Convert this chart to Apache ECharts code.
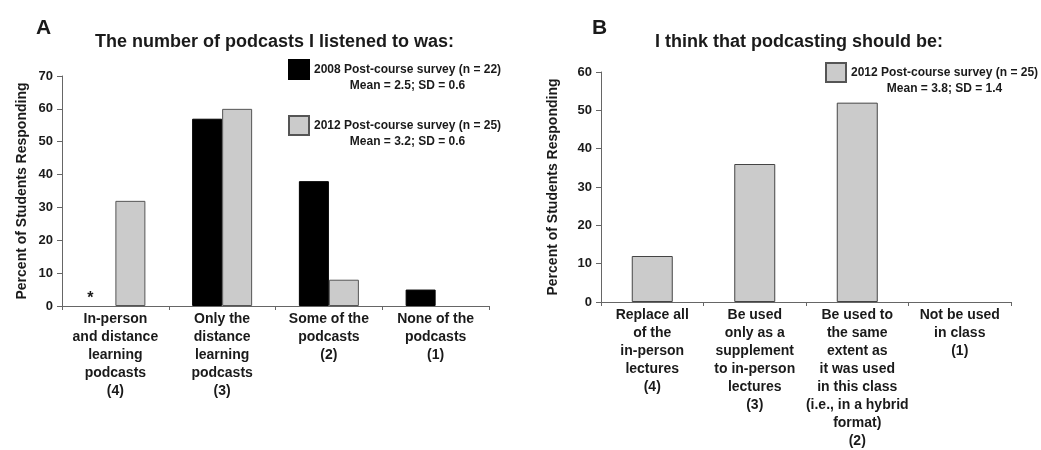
<!DOCTYPE html>
<html>
<head>
<meta charset="utf-8">
<script src="https://cdn.jsdelivr.net/npm/echarts@6/dist/echarts.min.js"></script>
<style>
  html, body { margin: 0; padding: 0; background: #fff; }
  #chart { width: 1041px; height: 450px; }
</style>
</head>
<body>
<div id="chart"></div>
<script>
// panel A data
const catsA = [
  'In-person\nand distance\nlearning\npodcasts\n(4)',
  'Only the\ndistance\nlearning\npodcasts\n(3)',
  'Some of the\npodcasts\n(2)',
  'None of the\npodcasts\n(1)'
]
const survey2008A = [0, 57, 38, 5]
const survey2012A = [32, 60, 8, 0]

// panel B data
const catsB = [
  'Replace all\nof the\nin-person\nlectures\n(4)',
  'Be used\nonly as a\nsupplement\nto in-person\nlectures\n(3)',
  'Be used to\nthe same\nextent as\nit was used\nin this class\n(i.e., in a hybrid\nformat)\n(2)',
  'Not be used\nin class\n(1)'
]
const survey2012B = [12, 36, 52, 0]

const name2008 = '2008 Post-course survey (n = 22)'
const name2012 = '2012 Post-course survey (n = 25)'
const stats2008A = 'Mean = 2.5; SD = 0.6'
const stats2012A = 'Mean = 3.2; SD = 0.6'
const stats2012B = 'Mean = 3.8; SD = 1.4'

const font = '"Liberation Sans", Arial, Helvetica, sans-serif'
const textColor = '#1a1a1a'
const axisColor = '#666'
const grayFill = '#cbcbcb'

const chart = echarts.init(document.getElementById('chart'))

function legendBox(seriesName, stats, left, top) {
  return {
    data: [seriesName],
    orient: 'vertical',
    left: left,
    top: top,
    padding: 0,
    icon: 'rect',
    itemWidth: 20,
    itemHeight: 19,
    itemGap: 5,
    selectedMode: false,
    formatter: () => '{a|' + seriesName + '}\n{b|' + stats + '}',
    textStyle: {
      padding: [16, 0, 0, 0],
      rich: {
        a: { fontFamily: font, fontWeight: 'bold', fontSize: 12, lineHeight: 16, color: textColor },
        b: { fontFamily: font, fontWeight: 'bold', fontSize: 12, lineHeight: 16, color: textColor, align: 'center' }
      }
    }
  }
}

function yAxisOf(gridIndex, max, nameGap) {
  return {
    type: 'value',
    gridIndex: gridIndex,
    min: 0,
    max: max,
    interval: 10,
    name: 'Percent of Students Responding',
    nameLocation: 'middle',
    nameGap: nameGap,
    nameTextStyle: { fontFamily: font, fontWeight: 'bold', fontSize: 14, color: textColor },
    axisLine: { show: true, lineStyle: { color: axisColor, width: 1 } },
    axisTick: { show: true, length: 5, lineStyle: { color: axisColor } },
    axisLabel: { fontFamily: font, fontWeight: 'bold', fontSize: 13, color: textColor, margin: 9 },
    splitLine: { show: false }
  }
}

function xAxisOf(gridIndex, cats) {
  return {
    type: 'category',
    gridIndex: gridIndex,
    data: cats,
    axisLine: { show: true, lineStyle: { color: axisColor, width: 1 } },
    axisTick: { show: true, length: 4, lineStyle: { color: axisColor } },
    axisLabel: {
      interval: 0,
      margin: 4,
      fontFamily: font,
      fontWeight: 'bold',
      fontSize: 14,
      lineHeight: 18,
      color: textColor
    }
  }
}

// zero-height bars should not leave a border line on the axis
function barData(values) {
  return values.map(v => v === 0 ? { value: v, itemStyle: { borderWidth: 0 } } : v)
}

const data2008A = barData(survey2008A)
// asterisk marks the empty 2008 bar in the first category
data2008A[0].label = {
  show: true,
  position: 'top',
  distance: 0,
  offset: [-10, 1],
  formatter: '*',
  fontFamily: font,
  fontWeight: 'bold',
  fontSize: 16,
  color: textColor
}

const option = {
  animation: false,
  backgroundColor: '#fff',
  title: [
    { text: 'A', left: 36, top: 18, padding: 0, textStyle: { fontFamily: font, fontWeight: 'bold', fontSize: 21, color: textColor } },
    { text: 'The number of podcasts I listened to was:', left: 95, top: 33, padding: 0, textStyle: { fontFamily: font, fontWeight: 'bold', fontSize: 18, color: textColor } },
    { text: 'B', left: 592, top: 18, padding: 0, textStyle: { fontFamily: font, fontWeight: 'bold', fontSize: 21, color: textColor } },
    { text: 'I think that podcasting should be:', left: 655, top: 33, padding: 0, textStyle: { fontFamily: font, fontWeight: 'bold', fontSize: 18, color: textColor } }
  ],
  legend: [
    legendBox(name2008, stats2008A, 288, 59),
    legendBox(name2012, stats2012A, 288, 115),
    legendBox(name2012, stats2012B, 825, 62)
  ],
  grid: [
    { left: 62, top: 76, width: 427, height: 230 },
    { left: 601, top: 72, width: 410, height: 233 }
  ],
  xAxis: [xAxisOf(0, catsA), xAxisOf(1, catsB)],
  yAxis: [yAxisOf(0, 70, 33), yAxisOf(1, 60, 41)],
  series: [
    {
      name: name2008,
      type: 'bar',
      xAxisIndex: 0,
      yAxisIndex: 0,
      barWidth: 30,
      barGap: '0%',
      itemStyle: { color: '#000', borderColor: '#000', borderWidth: 1 },
      data: data2008A
    },
    {
      name: name2012,
      type: 'bar',
      xAxisIndex: 0,
      yAxisIndex: 0,
      barWidth: 30,
      barGap: '0%',
      itemStyle: { color: grayFill, borderColor: '#555', borderWidth: 1 },
      data: barData(survey2012A)
    },
    {
      name: name2012,
      type: 'bar',
      xAxisIndex: 1,
      yAxisIndex: 1,
      barWidth: 41,
      itemStyle: { color: grayFill, borderColor: '#444', borderWidth: 1 },
      data: barData(survey2012B)
    }
  ]
}

chart.setOption(option)
</script>
</body>
</html>
